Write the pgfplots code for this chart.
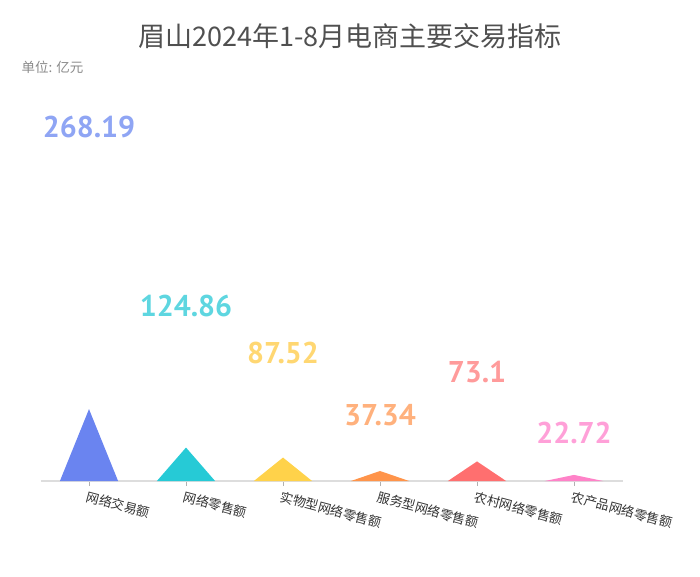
\documentclass[border=0pt]{standalone}
\usepackage{pgfplots}
\pgfplotsset{compat=1.18}
\usepackage{fontspec}
\setmainfont{Noto Sans CJK SC}
\newfontfamily\numfont{PT Sans}
\definecolor{ctitle}{HTML}{505050}
\definecolor{csub}{HTML}{8A8A8A}
\definecolor{ctick}{HTML}{333333}
\definecolor{caxis}{HTML}{DDDDDD}
\definecolor{b1}{HTML}{6A84F0}
\definecolor{b2}{HTML}{26CAD6}
\definecolor{b3}{HTML}{FFD24A}
\definecolor{b4}{HTML}{FF944A}
\definecolor{b5}{HTML}{FF6F6F}
\definecolor{b6}{HTML}{FF82C8}
\definecolor{l1}{HTML}{8FA5F4}
\definecolor{l2}{HTML}{5ED6E0}
\definecolor{l3}{HTML}{FFD772}
\definecolor{l4}{HTML}{FFB17D}
\definecolor{l5}{HTML}{FF9B9B}
\definecolor{l6}{HTML}{FFA0D8}
\begin{document}
\begin{tikzpicture}[x=1pt,y=1pt]
\useasboundingbox (0,0) rectangle (700,576);
\node[font=\fontsize{27}{27}\selectfont, text=ctitle] at (350,540) {眉山2024年1-8月电商主要交易指标};
\node[anchor=west, font=\fontsize{13.5}{13.5}\selectfont, text=csub] at (18,509) {单位: 亿元};
\begin{axis}[
  at={(40.5pt,95pt)}, anchor=south west,
  width=582pt, height=391pt, scale only axis,
  xmin=-0.5, xmax=5.5, ymin=0, ymax=1459,
  axis x line=bottom, axis y line=none,
  x axis line style={draw=caxis, line width=1.6pt, -},
  xtick={0,...,5}, xtick align=outside, major tick length=5pt,
  xtick style={draw=caxis!80!black, line width=0.6pt},
  ytick=\empty,
  xticklabels={网络交易额,网络零售额,实物型网络零售额,服务型网络零售额,农村网络零售额,农产品网络零售额},
  xticklabel style={rotate=-15, anchor=north west, xshift=-3pt, yshift=-1pt, font=\fontsize{13}{13}\selectfont, text=ctick},
  clip=false,
]
\addplot[fill=b1, draw=none] coordinates {(-0.3,0) (0,268.19) (0.3,0)};
\addplot[fill=b2, draw=none] coordinates {(0.7,0) (1,124.86) (1.3,0)};
\addplot[fill=b3, draw=none] coordinates {(1.7,0) (2,87.52) (2.3,0)};
\addplot[fill=b4, draw=none] coordinates {(2.7,0) (3,37.34) (3.3,0)};
\addplot[fill=b5, draw=none] coordinates {(3.7,0) (4,73.1) (4.3,0)};
\addplot[fill=b6, draw=none] coordinates {(4.7,0) (5,22.72) (5.3,0)};
\tikzset{vl/.style={font=\numfont\bfseries\fontsize{30}{30}\selectfont}}
\node[vl, text=l1] at (axis cs:0,1321) {268.19};
\node[vl, text=l2] at (axis cs:1,653) {124.86};
\node[vl, text=l3] at (axis cs:2,478) {87.52};
\node[vl, text=l4] at (axis cs:3,246) {37.34};
\node[vl, text=l5] at (axis cs:4,407) {73.1};
\node[vl, text=l6] at (axis cs:5,179) {22.72};
\end{axis}
\end{tikzpicture}
\end{document}
